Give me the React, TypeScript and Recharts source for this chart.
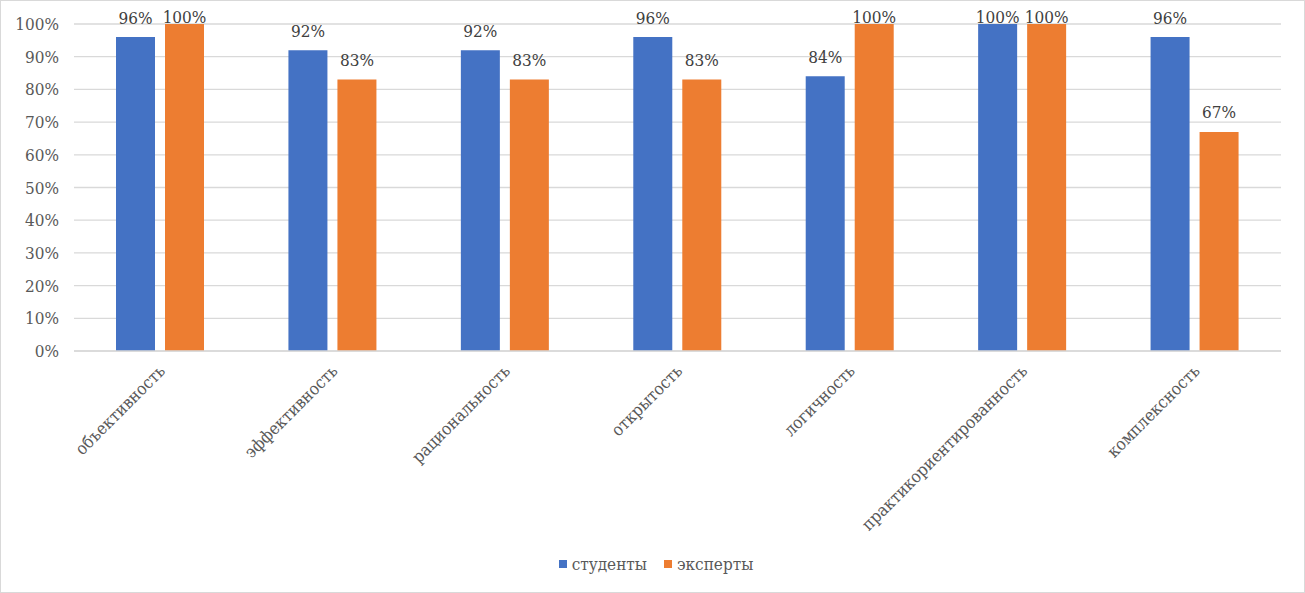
import React from 'react';
import { BarChart, Bar, XAxis, YAxis, CartesianGrid, Legend, LabelList } from 'recharts';

const categories = ['объективность', 'эффективность', 'рациональность', 'открытость', 'логичность', 'практикориентированность', 'комплексность'];
const students = [0.96, 0.92, 0.92, 0.96, 0.84, 1.0, 0.96];
const experts = [1.0, 0.83, 0.83, 0.83, 1.0, 1.0, 0.67];
const yTicks = [0, 0.1, 0.2, 0.3, 0.4, 0.5, 0.6, 0.7, 0.8, 0.9, 1.0];
const seriesNames = { students: 'студенты', experts: 'эксперты' };

const data = categories.map((c, i) => ({ name: c, students: students[i], experts: experts[i] }));

const FONT = "'DejaVu Serif Condensed', 'DejaVu Serif', serif";
const FS = 17;
const TEXT = '#595959';
const LABEL = '#404040';
const BLUE = '#4472C4';
const ORANGE = '#ED7D31';

const pct = (v: number) => `${Math.round(v * 100)}%`;

const CategoryTick = (props: any) => {
  const { x, y, payload } = props;
  const tx = x + 6;
  const ty = y + 13;
  return (
    <text x={tx} y={ty} transform={`rotate(-45, ${tx}, ${ty})`} textAnchor="end" style={{ fontFamily: FONT, fontSize: FS, fill: TEXT }}>
      {payload.value}
    </text>
  );
};

const ValueLabel = (props: any) => {
  const { x, y, width, value } = props;
  const by = Math.max(23, y - 13.5);
  return (
    <text x={x + width / 2} y={by} textAnchor="middle" style={{ fontFamily: FONT, fontSize: FS, fill: LABEL }}>
      {pct(value)}
    </text>
  );
};

const LegendContent = () => (
  <div style={{ display: 'flex', justifyContent: 'center', alignItems: 'center', fontFamily: FONT, fontSize: FS, color: TEXT, paddingTop: 13, paddingLeft: 31 }}>
    <span style={{ display: 'inline-flex', alignItems: 'center', marginRight: 17 }}>
      <span style={{ width: 8, height: 8, background: BLUE, display: 'inline-block', marginRight: 5 }} />
      {seriesNames.students}
    </span>
    <span style={{ display: 'inline-flex', alignItems: 'center' }}>
      <span style={{ width: 8, height: 8, background: ORANGE, display: 'inline-block', marginRight: 5 }} />
      {seriesNames.experts}
    </span>
  </div>
);

export default function App() {
  return (
    <div style={{ position: 'absolute', left: 0, top: 0, width: 1305, height: 593, background: '#fff' }}>
      <BarChart width={1305} height={593} data={data} margin={{ top: 24, right: 24, left: 0, bottom: 10 }} barSize={39} barGap={10}>
        <CartesianGrid vertical={false} stroke="#D9D9D9" strokeWidth={1.3} />
        <XAxis dataKey="name" interval={0} height={190} tick={<CategoryTick />} tickLine={false} axisLine={{ stroke: '#D9D9D9', strokeWidth: 1.3 }} />
        <YAxis width={74} domain={[0, 1]} ticks={yTicks} tickFormatter={pct} axisLine={false} tickLine={false} tickMargin={9}
          tick={{ style: { fontFamily: FONT }, fontSize: FS, fill: TEXT }} />
        <Legend verticalAlign="bottom" height={42} content={<LegendContent />} />
        <Bar dataKey="students" name={seriesNames.students} fill={BLUE} isAnimationActive={false}>
          <LabelList dataKey="students" content={<ValueLabel />} />
        </Bar>
        <Bar dataKey="experts" name={seriesNames.experts} fill={ORANGE} isAnimationActive={false}>
          <LabelList dataKey="experts" content={<ValueLabel />} />
        </Bar>
      </BarChart>
      <div style={{ position: 'absolute', left: 0, top: 0, width: 1305, height: 593, boxSizing: 'border-box', border: '1px solid #D9D9D9', pointerEvents: 'none' }} />
    </div>
  );
}
